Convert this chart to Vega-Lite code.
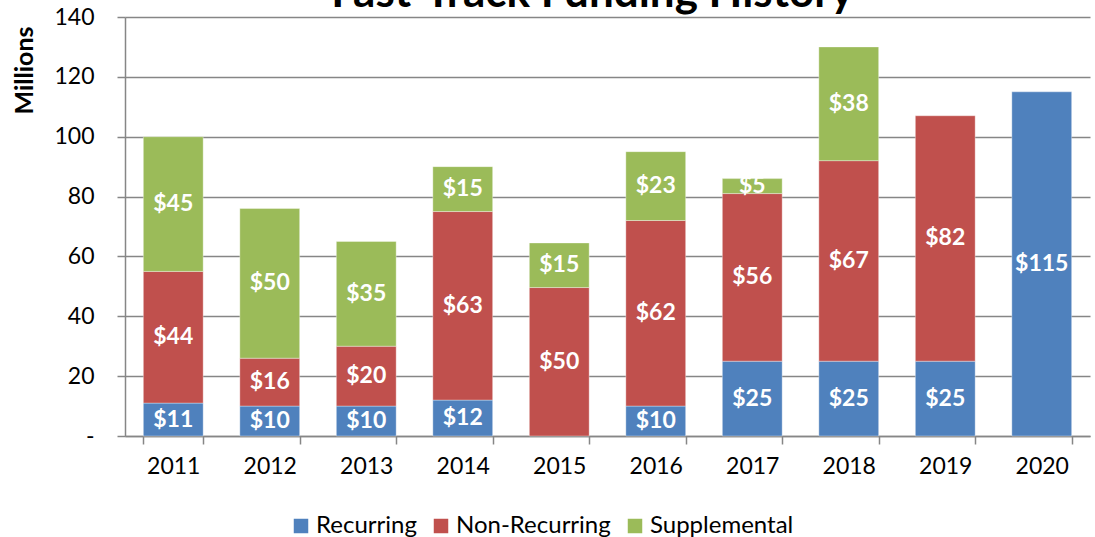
{
  "$schema": "https://vega.github.io/schema/vega-lite/v6.json",
  "autosize": {"type": "none"},
  "width": 965,
  "height": 419,
  "padding": {"left": 125, "top": 17, "right": 5, "bottom": 101},
  "background": "white",
  "title": {
    "text": "Fast-Track Funding History",
    "font": "Lato",
    "fontSize": 44,
    "fontWeight": "bold",
    "color": "black",
    "anchor": "middle",
    "baseline": "alphabetic",
    "offset": 0,
    "dy": 45,
    "dx": -15
  },
  "config": {
    "view": {"stroke": null},
    "font": "Lato"
  },
  "data": {
    "values": [
      {"year": "2011", "type": "Recurring", "ord": 1, "value": 11},
      {"year": "2011", "type": "Non-Recurring", "ord": 2, "value": 44},
      {"year": "2011", "type": "Supplemental", "ord": 3, "value": 45},
      {"year": "2012", "type": "Recurring", "ord": 1, "value": 10},
      {"year": "2012", "type": "Non-Recurring", "ord": 2, "value": 16},
      {"year": "2012", "type": "Supplemental", "ord": 3, "value": 50},
      {"year": "2013", "type": "Recurring", "ord": 1, "value": 10},
      {"year": "2013", "type": "Non-Recurring", "ord": 2, "value": 20},
      {"year": "2013", "type": "Supplemental", "ord": 3, "value": 35},
      {"year": "2014", "type": "Recurring", "ord": 1, "value": 12},
      {"year": "2014", "type": "Non-Recurring", "ord": 2, "value": 63},
      {"year": "2014", "type": "Supplemental", "ord": 3, "value": 15},
      {"year": "2015", "type": "Non-Recurring", "ord": 2, "value": 49.6},
      {"year": "2015", "type": "Supplemental", "ord": 3, "value": 14.9},
      {"year": "2016", "type": "Recurring", "ord": 1, "value": 10},
      {"year": "2016", "type": "Non-Recurring", "ord": 2, "value": 62},
      {"year": "2016", "type": "Supplemental", "ord": 3, "value": 23},
      {"year": "2017", "type": "Recurring", "ord": 1, "value": 25},
      {"year": "2017", "type": "Non-Recurring", "ord": 2, "value": 56},
      {"year": "2017", "type": "Supplemental", "ord": 3, "value": 5},
      {"year": "2018", "type": "Recurring", "ord": 1, "value": 25},
      {"year": "2018", "type": "Non-Recurring", "ord": 2, "value": 67},
      {"year": "2018", "type": "Supplemental", "ord": 3, "value": 38},
      {"year": "2019", "type": "Recurring", "ord": 1, "value": 25},
      {"year": "2019", "type": "Non-Recurring", "ord": 2, "value": 82},
      {"year": "2020", "type": "Recurring", "ord": 1, "value": 115}
    ]
  },
  "transform": [
    {"stack": "value", "groupby": ["year"], "sort": [{"field": "ord", "order": "ascending"}], "as": ["v0", "v1"]},
    {"calculate": "(datum.v0 + datum.v1) / 2", "as": "mid"}
  ],
  "encoding": {
    "x": {
      "field": "year",
      "type": "nominal",
      "scale": {"paddingInner": 0.38, "paddingOuter": 0.19},
      "axis": {
        "title": null,
        "labelAngle": 0,
        "labelFont": "Lato",
        "labelFontSize": 23,
        "labelColor": "black",
        "labelPadding": 11,
        "tickBand": "extent",
        "tickSize": 8,
        "tickColor": "#868686",
        "tickWidth": 1.5,
        "domainColor": "#868686",
        "domainWidth": 1.5,
        "grid": false
      }
    }
  },
  "layer": [
    {
      "mark": {"type": "bar", "stroke": "white", "strokeOpacity": 0.35, "strokeWidth": 1},
      "encoding": {
        "y": {
          "field": "v0",
          "type": "quantitative",
          "scale": {"domain": [0, 140], "nice": false},
          "axis": {
            "title": "Millions",
            "titleFont": "Lato",
            "titleFontSize": 25,
            "titleFontWeight": "bold",
            "titleColor": "black",
            "titleAngle": -90,
            "titleX": -101,
            "titleY": 53,
            "titleAlign": "center",
            "titleBaseline": "middle",
            "values": [0, 20, 40, 60, 80, 100, 120, 140],
            "labelExpr": "datum.value == 0 ? '-\u00a0\u00a0\u00a0' : datum.label",
            "labelFont": "Lato",
            "labelFontSize": 23,
            "labelColor": "black",
            "labelPadding": 23,
            "tickSize": 8,
            "tickColor": "#868686",
            "tickWidth": 1.5,
            "domainColor": "#868686",
            "domainWidth": 1.5,
            "grid": true,
            "gridColor": "#868686",
            "gridWidth": 1.5
          }
        },
        "y2": {"field": "v1"},
        "color": {
          "field": "type",
          "type": "nominal",
          "sort": ["Recurring", "Non-Recurring", "Supplemental"],
          "scale": {"domain": ["Recurring", "Non-Recurring", "Supplemental"], "range": ["#4F81BD", "#C0504D", "#9BBB59"]},
          "legend": {
            "title": null,
            "orient": "none",
            "direction": "horizontal",
            "legendX": 164,
            "legendY": 497,
            "symbolType": "square",
            "symbolSize": 210,
            "symbolStrokeWidth": 0,
            "labelFont": "Lato",
            "labelFontSize": 24,
            "labelColor": "black",
            "labelOffset": 3,
            "columnPadding": 12
          }
        }
      }
    },
    {
      "mark": {"type": "text", "color": "white", "font": "Lato", "fontWeight": "bold", "fontSize": 23, "baseline": "middle", "align": "center"},
      "encoding": {
        "y": {"field": "mid", "type": "quantitative"},
        "text": {"field": "value", "type": "quantitative", "format": "$.0f"}
      }
    }
  ]
}
